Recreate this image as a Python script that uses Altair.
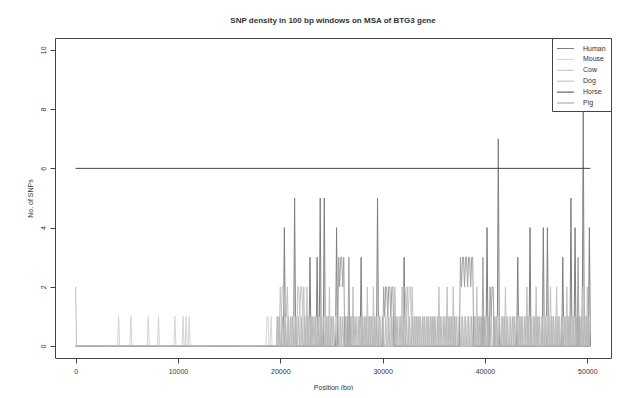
import altair as alt
import pandas as pd

# ---------------- data (SNP counts per 100 bp window) ----------------
WINDOW_BP = 100
N_WINDOWS = 504          # windows start at 0 .. 50300 bp

species = ["Human", "Mouse", "Cow", "Dog", "Horse", "Pig"]
line_colors = ["#7e7e7e", "#d4d4d4", "#c2c2c2", "#b8b8b8", "#454545", "#a0a0a0"]

# non-zero windows (window index) and their SNP counts; other windows are 0
human_win = [204, 214, 229, 236, 239, 243, 255, 279, 295, 321, 402, 413,
             432, 444, 457, 461, 476, 484, 488, 496, 502]
human_snp = [4, 5, 3, 3, 5, 5, 4, 3, 5, 3, 4, 7,
             3, 4, 4, 4, 3, 5, 4, 8, 4]

mouse_win = [42, 54, 71, 81, 97, 105, 108, 111, 187, 188, 191,
             198, 201, 204, 207, 211, 213, 216, 220, 223, 226, 228, 231,
             235, 238, 244, 246, 249, 251, 254, 258, 263, 265, 268, 270,
             276, 279, 283, 286, 288, 290, 293, 296, 298, 305, 308, 311,
             315, 318, 322, 325, 328, 332, 334, 336, 340, 344, 348, 350,
             352, 356, 359, 364, 366, 368, 371, 374, 377, 380, 383, 386,
             389, 391, 394, 396, 399, 401, 404, 410, 412, 416, 418, 421,
             424, 428, 433, 435, 437, 440, 443, 447, 449, 452, 455, 458,
             460, 463, 466, 471, 473, 477, 479, 482, 485, 487, 490, 493,
             495, 498, 500]
mouse_snp = [1, 1, 1, 1, 1, 1, 1, 1, 1, 1, 1,
             1, 1, 1, 1, 1, 1, 1, 1, 1, 1, 1, 1,
             1, 1, 1, 1, 1, 1, 1, 1, 1, 1, 1, 1,
             1, 1, 1, 1, 1, 1, 1, 1, 1, 1, 1, 1,
             1, 1, 1, 1, 1, 1, 1, 1, 1, 1, 1, 1,
             1, 1, 1, 1, 1, 1, 1, 1, 1, 1, 1, 1,
             1, 1, 1, 1, 1, 1, 1, 1, 1, 1, 1, 1,
             1, 1, 1, 1, 1, 1, 1, 1, 1, 1, 1, 1,
             1, 1, 1, 1, 1, 1, 1, 1, 1, 1, 1, 1,
             1, 1, 1]

cow_win = [0,
           200, 201, 202, 203, 204, 205, 206, 207,
           217, 218, 219, 220, 221, 222, 223,
           226, 248, 271, 285, 291, 312,
           319, 320, 321, 322, 323, 324, 325, 326, 327, 328, 329,
           355, 363, 369, 392, 420, 441, 450, 464, 470, 480, 495, 500]
cow_snp = [2,
           2, 1, 2, 2, 1, 2, 1, 2,
           2, 2, 1, 2, 2, 1, 2,
           2, 2, 2, 2, 2, 2,
           2, 1, 2, 2, 1, 2, 1, 2, 2, 1, 2,
           2, 2, 2, 2, 2, 2, 2, 2, 2, 2, 2, 2]

dog_win = [197, 199, 202, 205, 208, 210, 212, 215, 218, 221, 224, 227,
           230, 232, 234, 237, 240, 242, 245, 247, 250, 252, 256, 259,
           261, 264, 266, 269, 272, 274, 277, 280, 282, 284, 287, 289,
           292, 294, 297, 300, 303, 306, 309, 312, 314, 317, 320, 323,
           326, 329, 331, 333, 335, 337, 339, 341, 343, 345, 347, 349,
           351, 354, 357, 360, 362, 365, 367, 370, 372, 375, 378, 381,
           384, 387, 390, 393, 395, 397, 400, 403, 406, 409, 411, 414,
           417, 419, 422, 425, 427, 429, 431, 434, 436, 439, 442, 445,
           448, 451, 453, 456, 459, 462, 465, 467, 469, 472, 475, 478,
           481, 483, 486, 489, 492, 494, 497, 499, 501, 503]
dog_snp = [1, 1, 1, 1, 1, 1, 1, 1, 1, 1, 1, 1,
           1, 1, 1, 1, 1, 1, 1, 1, 1, 1, 1, 1,
           1, 1, 1, 1, 1, 1, 1, 1, 1, 1, 1, 1,
           1, 1, 1, 1, 1, 1, 1, 1, 1, 1, 1, 1,
           1, 1, 1, 1, 1, 1, 1, 1, 1, 1, 1, 1,
           1, 1, 1, 1, 1, 1, 1, 1, 1, 1, 1, 1,
           1, 1, 1, 1, 1, 1, 1, 1, 1, 1, 1, 1,
           1, 1, 1, 1, 1, 1, 1, 1, 1, 1, 1, 1,
           1, 1, 1, 1, 1, 1, 1, 1, 1, 1, 1, 1,
           1, 1, 1, 1, 1, 1, 1, 1, 1, 1]

pig_win = [257, 258, 259, 260, 261, 262, 267,
           301, 302, 303, 304, 305, 306, 307, 308, 309, 310,
           376, 377, 378, 379, 380, 381, 382, 383, 384, 385, 386, 387, 388,
           398, 405, 406, 407, 408, 491]
pig_snp = [3, 2, 3, 3, 2, 3, 3,
           2, 1, 2, 2, 1, 2, 2, 1, 2, 2,
           3, 2, 3, 3, 2, 3, 3, 2, 3, 3, 2, 3, 3,
           3, 2, 1, 2, 2, 3]

# Horse is flat at 6 SNPs along the whole alignment
horse_pos = [0, 50300]
horse_snp = [6, 6]

x_ticks = [0, 10000, 20000, 30000, 40000, 50000]
y_ticks = [0, 2, 4, 6, 8, 10]

# ---------------- build the long table ----------------
sparse = {
    "Human": (human_win, human_snp),
    "Mouse": (mouse_win, mouse_snp),
    "Cow": (cow_win, cow_snp),
    "Dog": (dog_win, dog_snp),
    "Pig": (pig_win, pig_snp),
}
rows = []
for sp in species:
    if sp == "Horse":
        for p, v in zip(horse_pos, horse_snp):
            rows.append({"species": sp, "pos": p, "snps": v})
        continue
    wins, vals = sparse[sp]
    counts = [0] * N_WINDOWS
    for w, v in zip(wins, vals):
        counts[w] = v
    for i, v in enumerate(counts):
        rows.append({"species": sp, "pos": i * WINDOW_BP, "snps": v})
df = pd.DataFrame(rows)
df["order"] = df["species"].map({s: i for i, s in enumerate(species)})

text_color = "#333333"
font = "Liberation Sans"

chart = (
    alt.Chart(df)
    .mark_line(strokeWidth=1, interpolate="linear")
    .encode(
        x=alt.X(
            "pos:Q",
            title="Position (bp)",
            scale=alt.Scale(domain=[-2012, 52312], nice=False, zero=False),
            axis=alt.Axis(values=x_ticks, format="d", grid=False, domain=False,
                          tickSize=5, tickColor="#444", labelFontSize=7,
                          labelPadding=4, labelColor=text_color, titleFontSize=7,
                          titleFontWeight="normal", titleColor=text_color,
                          titlePadding=9, labelFont=font, titleFont=font),
        ),
        y=alt.Y(
            "snps:Q",
            title="No. of SNPs",
            scale=alt.Scale(domain=[-0.4, 10.4], nice=False, zero=False),
            axis=alt.Axis(values=y_ticks, grid=False, domain=False, tickSize=5,
                          tickColor="#444", labelFontSize=7, labelAngle=270,
                          labelAlign="center", labelBaseline="bottom",
                          labelPadding=4, labelColor=text_color, titleFontSize=7,
                          titleFontWeight="normal", titleColor=text_color,
                          titlePadding=6, labelFont=font, titleFont=font),
        ),
        color=alt.Color(
            "species:N",
            scale=alt.Scale(domain=species, range=line_colors),
            legend=alt.Legend(
                title=None, orient="top-right", offset=0,
                strokeColor="#444", fillColor="white", padding=5,
                symbolType="M-1.7,0H1.7", symbolSize=100, symbolStrokeWidth=1,
                symbolOffset=3, labelOffset=12, labelFontSize=7,
                labelColor=text_color, labelFont=font, rowPadding=1.9,
            ),
        ),
        order=alt.Order("order:Q"),
        detail="species:N",
    )
    .properties(
        width=556,
        height=320,
        autosize=alt.AutoSizeParams(type="none"),
        padding={"left": 47, "top": 30, "right": 7, "bottom": 32},
        title=alt.Title(
            "SNP density in 100 bp windows on MSA of BTG3 gene",
            fontSize=8, fontWeight="bold", color=text_color, font=font,
            anchor="middle", frame="group", offset=13,
        ),
    )
    .configure_view(stroke="#444", strokeWidth=1)
)

chart.save("out.html", embed_options={"renderer": "svg", "actions": False})
